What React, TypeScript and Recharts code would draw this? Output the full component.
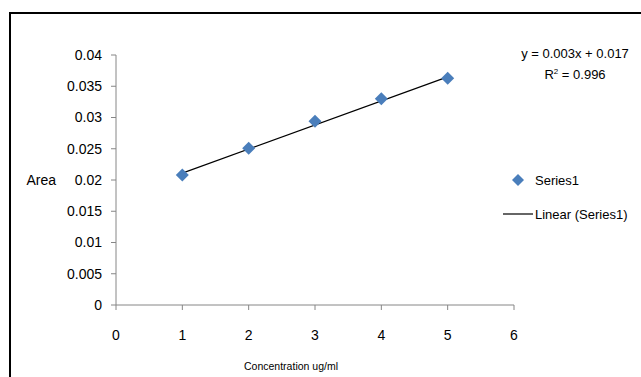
import React from "react";
import { ComposedChart, Scatter, XAxis, YAxis } from "recharts";

const concentrations = [1, 2, 3, 4, 5];
const areas = [0.0208, 0.0251, 0.0294, 0.033, 0.0363];

// trendline end points
const trendX = [1, 5];
const trendY = [0.0211, 0.0365];

const xTicks = [0, 1, 2, 3, 4, 5, 6];
const yTicks = [0, 0.005, 0.01, 0.015, 0.02, 0.025, 0.03, 0.035, 0.04];
const yTickLabels = ["0", "0.005", "0.01", "0.015", "0.02", "0.025", "0.03", "0.035", "0.04"];

const equationText = "y = 0.003x + 0.017";
const r2Value = "0.996";

const FONT = "'Liberation Sans', Arial, sans-serif";
const BLUE = "#4a7ebb";
const AXIS = "#868686";

const points = concentrations.map((x, i) => ({ x, y: areas[i] }));
const trend = trendX.map((x, i) => ({ x, y: trendY[i] }));

const Diamond = (props: any) => {
  const { cx, cy } = props;
  if (cx == null || cy == null) return <g />;
  const r = 6.5;
  return (
    <polygon
      points={`${cx},${cy - r} ${cx + r},${cy} ${cx},${cy + r} ${cx - r},${cy}`}
      fill={BLUE}
    />
  );
};

const LegendBox = () => (
  <div
    style={{
      position: "absolute",
      left: 503,
      top: 169,
      fontFamily: FONT,
      fontSize: 13,
      color: "#000",
      whiteSpace: "nowrap",
    }}
  >
    <div style={{ display: "flex", alignItems: "center", height: 22 }}>
      <svg width={32} height={14}>
        <polygon points="15,1 21,7 15,13 9,7" fill={BLUE} />
      </svg>
      <span>Series1</span>
    </div>
    <div style={{ display: "flex", alignItems: "center", height: 22, marginTop: 12 }}>
      <svg width={32} height={14}>
        <line x1={0} y1={7} x2={30} y2={7} stroke="#000" strokeWidth={1.2} />
      </svg>
      <span>Linear (Series1)</span>
    </div>
  </div>
);

export default function App() {
  return (
    <div
      style={{
        position: "fixed",
        left: 0,
        top: 0,
        width: 641,
        height: 377,
        background: "#fff",
        overflow: "hidden",
      }}
    >
      <div
        style={{
          position: "absolute",
          left: 9,
          top: 12,
          width: 700,
          height: 420,
          border: "2px solid #000",
        }}
      />
      <ComposedChart
        width={641}
        height={377}
        margin={{ top: 55, right: 127, bottom: 2, left: 56 }}
        style={{ position: "absolute", left: 0, top: 0 }}
      >
        <XAxis
          type="number"
          dataKey="x"
          domain={[0, 6]}
          ticks={xTicks}
          interval={0}
          height={70}
          stroke={AXIS}
          tickSize={5}
          tickMargin={20}
          tick={{ fill: "#000", fontSize: 14, fontFamily: FONT }}
          label={{
            value: "Concentration ug/ml",
            position: "insideBottom",
            offset: 5,
            dx: -24,
            style: { fill: "#000", fontSize: 10.5, fontFamily: FONT },
          }}
        />
        <YAxis
          type="number"
          dataKey="y"
          domain={[0, 0.04]}
          ticks={yTicks}
          interval={0}
          width={60}
          stroke={AXIS}
          tickSize={5}
          tickMargin={9}
          tickFormatter={(v: number) => yTickLabels[yTicks.indexOf(v)] ?? String(v)}
          tick={{ fill: "#000", fontSize: 14, fontFamily: FONT }}
          label={{
            value: "Area",
            position: "left",
            offset: 0,
            style: { fill: "#000", fontSize: 14, fontFamily: FONT, textAnchor: "end" },
          }}
        />
        <Scatter
          name="Linear (Series1)"
          data={trend}
          line={{ stroke: "#000", strokeWidth: 1.2 }}
          shape={() => <g />}
          isAnimationActive={false}
          legendType="none"
        />
        <Scatter
          name="Series1"
          data={points}
          fill={BLUE}
          shape={Diamond}
          isAnimationActive={false}
        />
      </ComposedChart>
      <LegendBox />
      <div
        style={{
          position: "absolute",
          left: 505,
          top: 43,
          width: 140,
          textAlign: "center",
          fontFamily: FONT,
          fontSize: 13,
          lineHeight: "21px",
          color: "#000",
        }}
      >
        <div>{equationText}</div>
        <div>
          R<sup style={{ fontSize: 8, verticalAlign: "5px", lineHeight: 0 }}>2</sup> = {r2Value}
        </div>
      </div>
    </div>
  );
}
